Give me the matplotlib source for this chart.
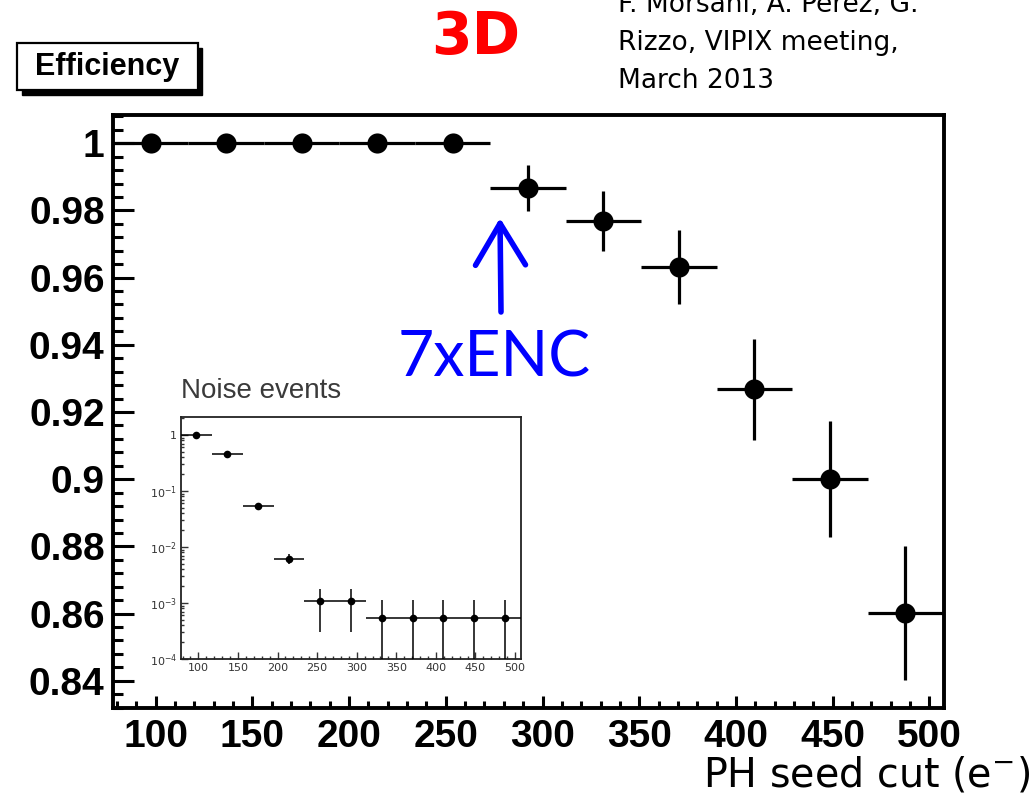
import numpy as np
import matplotlib
matplotlib.use("Agg")
import matplotlib.pyplot as plt
from matplotlib.ticker import MultipleLocator, FuncFormatter, FixedLocator, LogLocator, NullFormatter
from matplotlib.patches import Rectangle

# ---------------- data ----------------
bin_centers = [97.5, 136.5, 175.5, 214.5, 253.5, 292.5, 331.5, 370.5, 409.5, 448.5, 487.5]
bin_halfwidth = [19.5] * 11

efficiency = [1.0, 1.0, 1.0, 1.0, 1.0, 0.9866, 0.9769, 0.9632, 0.9268, 0.9000, 0.8601]
eff_err = [0.0, 0.0, 0.0, 0.0, 0.0, 0.0068, 0.0090, 0.0110, 0.0150, 0.0172, 0.0199]

noise = [1.0, 0.45, 0.054, 0.0062, 0.0011, 0.0011, 0.00055, 0.00055, 0.00055, 0.00055, 0.00055]
noise_err_low = [0.0, 0.0, 0.002, 0.0012, 0.0008, 0.0008, 0.0005, 0.0005, 0.0005, 0.0005, 0.0005]
noise_err_high = [0.0, 0.0, 0.002, 0.0012, 0.0007, 0.0007, 0.00057, 0.00057, 0.00057, 0.00057, 0.00057]

x_ticks = [100, 150, 200, 250, 300, 350, 400, 450, 500]
y_ticks = [0.84, 0.86, 0.88, 0.90, 0.92, 0.94, 0.96, 0.98, 1.00]
inset_y_ticks = [1e-4, 1e-3, 1e-2, 1e-1, 1]

W, H = 1033, 796
fig = plt.figure(figsize=(W / 100, H / 100), dpi=100)
fig.patch.set_facecolor("white")

def fx(px):
    return px / W

def fy(py):
    return 1 - py / H

# ---------------- main axes ----------------
ax = fig.add_axes([fx(113), fy(708), fx(944) - fx(113), fy(115) - fy(708)])
ax.errorbar(bin_centers, efficiency, yerr=eff_err, xerr=bin_halfwidth,
            fmt="o", color="black", ms=14.5, elinewidth=2.3, capsize=0,
            markeredgewidth=0, zorder=3)
ax.set_xlim(78, 507.5)
ax.set_ylim(0.8319, 1.0084)

for s in ax.spines.values():
    s.set_linewidth(2.8)
    s.set_color("black")

ax.xaxis.set_major_locator(FixedLocator(x_ticks))
ax.xaxis.set_minor_locator(MultipleLocator(10))
ax.yaxis.set_major_locator(FixedLocator(y_ticks))
ax.yaxis.set_minor_locator(MultipleLocator(0.004))
ax.yaxis.set_major_formatter(FuncFormatter(lambda v, p: "%g" % round(v, 3)))
ax.xaxis.set_major_formatter(FuncFormatter(lambda v, p: "%d" % v))

ax.tick_params(axis="both", which="both", direction="in", top=False, right=False, color="black")
ax.tick_params(axis="y", which="major", length=15, width=2.2, pad=6)
ax.tick_params(axis="y", which="minor", length=7.5, width=2.2)
ax.tick_params(axis="x", which="major", length=9, width=2.2, pad=8)
ax.tick_params(axis="x", which="minor", length=5, width=2.2)
for lab in ax.get_xticklabels() + ax.get_yticklabels():
    lab.set_fontfamily(["Liberation Sans", "DejaVu Sans"])
    lab.set_fontweight("bold")
    lab.set_fontsize(28)

# ---------------- inset ----------------
axi = fig.add_axes([fx(181), fy(659), fx(521) - fx(181), fy(417) - fy(659)])
axi.set_facecolor("white")
axi.errorbar(bin_centers, noise, yerr=[noise_err_low, noise_err_high], xerr=bin_halfwidth,
             fmt="o", color="black", ms=5.5, elinewidth=1.1, capsize=0,
             markeredgewidth=0, zorder=3)
axi.set_yscale("log")
axi.set_xlim(78, 507.5)
axi.set_ylim(1e-4, 2.1)
for s in axi.spines.values():
    s.set_linewidth(1.3)
    s.set_color("#222222")
axi.xaxis.set_major_locator(FixedLocator(x_ticks))
axi.xaxis.set_minor_locator(MultipleLocator(10))
axi.yaxis.set_major_locator(FixedLocator(inset_y_ticks))
axi.yaxis.set_minor_locator(LogLocator(base=10, subs=np.arange(2, 10)))
axi.yaxis.set_minor_formatter(NullFormatter())
axi.yaxis.set_major_formatter(FuncFormatter(
    lambda v, p: "1" if v >= 1 else r"$10^{%d}$" % int(round(np.log10(v)))))
axi.xaxis.set_major_formatter(FuncFormatter(lambda v, p: "%d" % v))
axi.tick_params(axis="both", which="both", direction="in", top=False, right=False,
                color="#333333", labelcolor="#333333")
axi.tick_params(axis="both", which="major", length=5, width=1.0, labelsize=8, pad=3)
axi.tick_params(axis="both", which="minor", length=2.5, width=1.0)

fig.text(fx(181), fy(398), "Noise events", fontsize=20, color="#3a3a3a",
         family=["Liberation Sans", "DejaVu Sans"], va="baseline", ha="left")

# ---------------- annotations ----------------
# "Efficiency" box with shadow
fig.patches.append(Rectangle((fx(22), fy(95)), fx(202) - fx(22), fy(48) - fy(95),
                             transform=fig.transFigure, facecolor="black",
                             edgecolor="black", zorder=1))
fig.patches.append(Rectangle((fx(17), fy(90)), fx(198) - fx(17), fy(43) - fy(90),
                             transform=fig.transFigure, facecolor="white",
                             edgecolor="black", linewidth=1.6, zorder=2))
fig.text(fx(107), fy(67), "Efficiency", fontsize=22, fontweight="bold",
         family=["Liberation Sans", "DejaVu Sans"], ha="center", va="center", zorder=3)

fig.text(fx(476), fy(54), "3D", fontsize=42, fontweight="bold", color="#ff0000",
         family=["DejaVu Sans"], ha="center", va="baseline")

info_lines = ["F. Morsani, A. Perez, G.", "Rizzo, VIPIX meeting,", "March 2013"]
for i, line in enumerate(info_lines):
    fig.text(fx(618), fy(12 + 38 * i), line, fontsize=19, color="black",
             family=["DejaVu Sans"], ha="left", va="baseline")

fig.text(fx(398), fy(376), "7xENC", fontsize=45, color="#0000ff",
         family=["Lato", "DejaVu Sans"], ha="left", va="baseline")

ax.annotate("", xy=(500, H - 218), xycoords="figure pixels",
            xytext=(501, H - 312), textcoords="figure pixels",
            arrowprops=dict(arrowstyle="->,head_length=1.5,head_width=0.9",
                            color="#0000ff", lw=4, mutation_scale=20,
                            shrinkA=0, shrinkB=0))

fig.text(fx(1030), fy(787), r"PH seed cut (e$^{-}$)", fontsize=28.5, color="black",
         family=["DejaVu Sans"], ha="right", va="baseline")

fig.savefig("out.png", dpi=100, facecolor="white")
